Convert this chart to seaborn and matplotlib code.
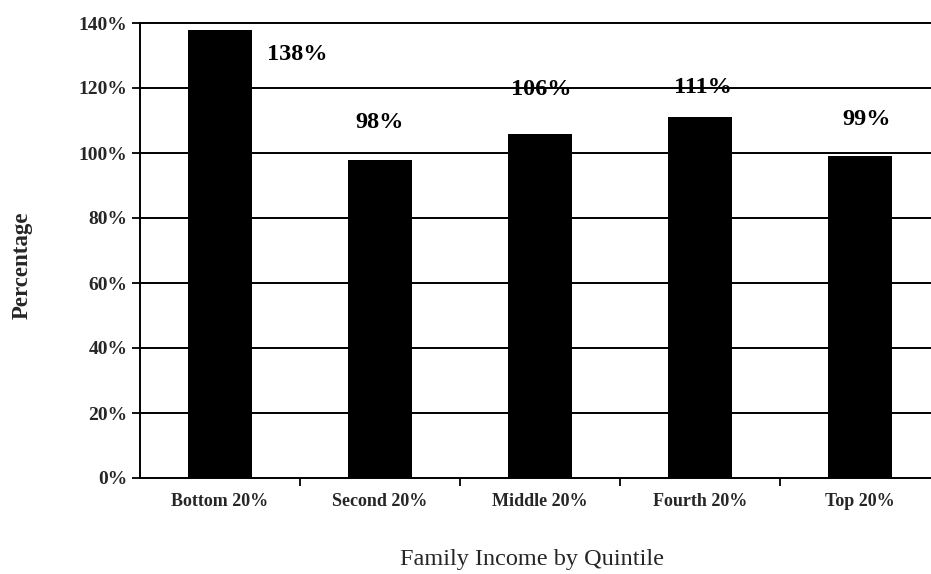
import matplotlib
matplotlib.use("Agg")
import matplotlib.pyplot as plt
import seaborn as sns
import pandas as pd
from matplotlib.ticker import FixedLocator, FuncFormatter

categories = ["Bottom 20%", "Second 20%", "Middle 20%", "Fourth 20%", "Top 20%"]
values = [138, 98, 106, 111, 99]
y_ticks = [0, 20, 40, 60, 80, 100, 120, 140]

# label placement (layout only)
label_dx = [0.48, 0.0, 0.01, 0.02, 0.04]
label_y = [130.2, 109.5, 119.4, 120.3, 110.2]

sns.set_theme(style="white")
plt.rcParams["font.family"] = ["Liberation Serif", "DejaVu Serif"]

fig = plt.figure(figsize=(9.31, 5.74), dpi=100)
ax = fig.add_axes([140/931, (574-478)/574, 800/931, (478-23)/574])

df = pd.DataFrame({"cat": categories, "val": values})
sns.barplot(data=df, x="cat", y="val", color="black", width=0.406,
            saturation=1, linewidth=0, ax=ax, zorder=3)

ax.set_xlim(-0.5, 4.5)
ax.set_ylim(0, 140)
for t in y_ticks[1:]:
    ax.axhline(t, color="black", lw=1.4, zorder=1, clip_on=False)

for s in ["top", "right"]:
    ax.spines[s].set_visible(False)
for s in ["left", "bottom"]:
    ax.spines[s].set_color("black")
    ax.spines[s].set_linewidth(1.4)

ax.yaxis.set_major_locator(FixedLocator(y_ticks))
ax.yaxis.set_major_formatter(FuncFormatter(lambda v, p: f"{int(v)}%"))
ax.tick_params(axis="y", which="major", left=True, length=6, width=1.3,
               color="black", labelsize=14, pad=3)
for lab in ax.get_yticklabels():
    lab.set_fontweight("bold")

ax.set_xticks(range(len(categories)))
ax.set_xticklabels(categories, fontsize=13, fontweight="bold")
ax.tick_params(axis="x", which="major", bottom=False, length=0, pad=11)
ax.set_xticks([0.5, 1.5, 2.5, 3.5], minor=True)
ax.tick_params(axis="x", which="minor", bottom=True, length=6, width=1.3,
               color="black")

for i, v in enumerate(values):
    ax.text(i + label_dx[i], label_y[i], f"{v}%", ha="center", va="center",
            fontsize=17.5, fontweight="bold", color="black", zorder=4)

ax.set_xlabel("")
ax.set_ylabel("")
fig.text(532/931, 1 - 560/574, "Family Income by Quintile", ha="center",
         va="center", fontsize=17.5)
fig.text(22/931, 1 - 265/574, "Percentage", ha="center", va="center",
         rotation=90, fontsize=16.5, fontweight="bold")

fig.savefig("out.png", dpi=100)
